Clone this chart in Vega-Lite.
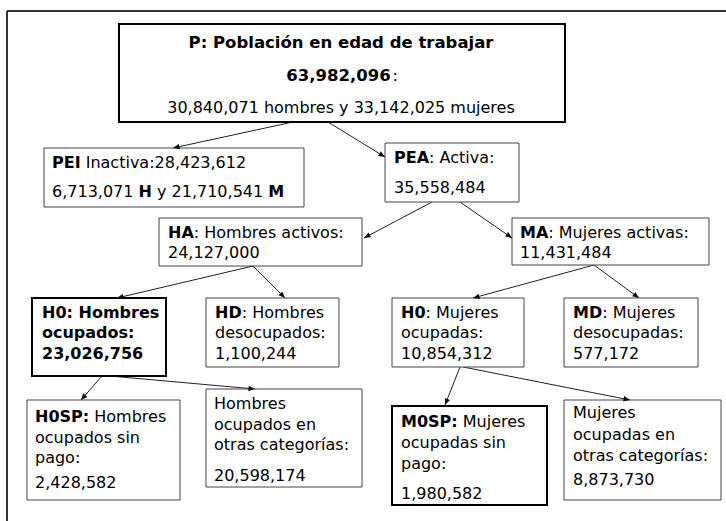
{
  "$schema": "https://vega.github.io/schema/vega-lite/v6.json",
  "width": 726,
  "height": 521,
  "autosize": {"type": "none"},
  "padding": 0,
  "background": "white",
  "config": {"view": {"stroke": null}},
  "datasets": {
    "frame": [
      {"side": "top", "x": 7, "x2": 726, "y": 11, "y2": 11},
      {"side": "left", "x": 7, "x2": 7, "y": 11, "y2": 521}
    ],
    "links": [
      {"from": "P", "to": "PEI", "x": 293, "y": 122, "x2": 173, "y2": 148},
      {"from": "P", "to": "PEA", "x": 328, "y": 122, "x2": 385, "y2": 157},
      {"from": "PEA", "to": "HA", "x": 432, "y": 202, "x2": 364, "y2": 238},
      {"from": "PEA", "to": "MA", "x": 460, "y": 202, "x2": 512, "y2": 238},
      {"from": "HA", "to": "H0h", "x": 253, "y": 266, "x2": 117, "y2": 298},
      {"from": "HA", "to": "HD", "x": 253, "y": 266, "x2": 285, "y2": 298},
      {"from": "MA", "to": "H0m", "x": 594, "y": 265, "x2": 473, "y2": 298},
      {"from": "MA", "to": "MD", "x": 594, "y": 265, "x2": 639, "y2": 298},
      {"from": "H0h", "to": "H0SP", "x": 102, "y": 376, "x2": 81, "y2": 400},
      {"from": "H0h", "to": "Hotras", "x": 110, "y": 376, "x2": 255, "y2": 389},
      {"from": "H0m", "to": "M0SP", "x": 460, "y": 367, "x2": 445, "y2": 405},
      {"from": "H0m", "to": "Motras", "x": 463, "y": 367, "x2": 630, "y2": 400}
    ],
    "boxes": [
      {"id": "P", "x": 119, "x2": 565, "y": 24, "y2": 122, "emph": "principal"},
      {"id": "PEI", "x": 44, "x2": 304, "y": 148, "y2": 207, "emph": "normal"},
      {"id": "PEA", "x": 385, "x2": 519, "y": 143, "y2": 202, "emph": "normal"},
      {"id": "HA", "x": 159, "x2": 362, "y": 218, "y2": 266, "emph": "normal"},
      {"id": "MA", "x": 512, "x2": 709, "y": 218, "y2": 265, "emph": "normal"},
      {"id": "H0h", "x": 32, "x2": 166, "y": 298, "y2": 376, "emph": "principal"},
      {"id": "HD", "x": 206, "x2": 339, "y": 298, "y2": 367, "emph": "normal"},
      {"id": "H0m", "x": 392, "x2": 524, "y": 298, "y2": 367, "emph": "normal"},
      {"id": "MD", "x": 564, "x2": 698, "y": 298, "y2": 367, "emph": "normal"},
      {"id": "H0SP", "x": 27, "x2": 180, "y": 400, "y2": 500, "emph": "normal"},
      {"id": "Hotras", "x": 206, "x2": 362, "y": 389, "y2": 487, "emph": "normal"},
      {"id": "M0SP", "x": 392, "x2": 547, "y": 406, "y2": 505, "emph": "principal"},
      {"id": "Motras", "x": 564, "x2": 721, "y": 400, "y2": 500, "emph": "normal"}
    ],
    "labels": [
      {"t": "P: Población en edad de trabajar", "x": 341, "y": 43, "w": "b", "a": "c"},
      {"t": "63,982,096", "x": 338.5, "y": 76, "w": "b", "a": "c"},
      {"t": ":", "x": 392.5, "y": 76, "w": "n", "a": "l"},
      {"t": "30,840,071 hombres y 33,142,025 mujeres", "x": 341, "y": 108, "w": "n", "a": "c"},
      {"t": "PEI", "x": 52, "y": 163, "w": "b", "a": "l"},
      {"t": "Inactiva:28,423,612", "x": 85.7, "y": 163, "w": "n", "a": "l"},
      {"t": "6,713,071", "x": 52, "y": 192, "w": "n", "a": "l"},
      {"t": "H", "x": 138.5, "y": 192, "w": "b", "a": "l"},
      {"t": "y 21,710,541", "x": 157, "y": 192, "w": "n", "a": "l"},
      {"t": "M", "x": 268.2, "y": 192, "w": "b", "a": "l"},
      {"t": "PEA", "x": 394, "y": 158, "w": "b", "a": "l"},
      {"t": ": Activa:", "x": 429, "y": 158, "w": "n", "a": "l"},
      {"t": "35,558,484", "x": 394, "y": 188, "w": "n", "a": "l"},
      {"t": "HA", "x": 168, "y": 233, "w": "b", "a": "l"},
      {"t": ": Hombres activos:", "x": 193.8, "y": 233, "w": "n", "a": "l"},
      {"t": "24,127,000", "x": 168, "y": 253, "w": "n", "a": "l"},
      {"t": "MA", "x": 520, "y": 233, "w": "b", "a": "l"},
      {"t": ": Mujeres activas:", "x": 548.3, "y": 233, "w": "n", "a": "l"},
      {"t": "11,431,484", "x": 520, "y": 253, "w": "n", "a": "l"},
      {"t": "H0: Hombres", "x": 42, "y": 313, "w": "b", "a": "l"},
      {"t": "ocupados:", "x": 42, "y": 333, "w": "b", "a": "l"},
      {"t": "23,026,756", "x": 42, "y": 354, "w": "b", "a": "l"},
      {"t": "HD", "x": 215, "y": 313, "w": "b", "a": "l"},
      {"t": ": Hombres", "x": 241.7, "y": 313, "w": "n", "a": "l"},
      {"t": "desocupados:", "x": 215, "y": 333, "w": "n", "a": "l"},
      {"t": "1,100,244", "x": 215, "y": 354, "w": "n", "a": "l"},
      {"t": "H0", "x": 401, "y": 313, "w": "b", "a": "l"},
      {"t": ": Mujeres", "x": 425.5, "y": 313, "w": "n", "a": "l"},
      {"t": "ocupadas:", "x": 401, "y": 333, "w": "n", "a": "l"},
      {"t": "10,854,312", "x": 401, "y": 354, "w": "n", "a": "l"},
      {"t": "MD", "x": 573, "y": 313, "w": "b", "a": "l"},
      {"t": ": Mujeres", "x": 602.2, "y": 313, "w": "n", "a": "l"},
      {"t": "desocupadas:", "x": 573, "y": 333, "w": "n", "a": "l"},
      {"t": "577,172", "x": 573, "y": 354, "w": "n", "a": "l"},
      {"t": "H0SP:", "x": 35, "y": 417, "w": "b", "a": "l"},
      {"t": "Hombres", "x": 94.3, "y": 417, "w": "n", "a": "l"},
      {"t": "ocupados sin", "x": 35, "y": 438, "w": "n", "a": "l"},
      {"t": "pago:", "x": 35, "y": 458, "w": "n", "a": "l"},
      {"t": "2,428,582", "x": 35, "y": 483, "w": "n", "a": "l"},
      {"t": "Hombres", "x": 214, "y": 404, "w": "n", "a": "l"},
      {"t": "ocupados en", "x": 214, "y": 425, "w": "n", "a": "l"},
      {"t": "otras categorías:", "x": 214, "y": 445, "w": "n", "a": "l"},
      {"t": "20,598,174", "x": 214, "y": 476, "w": "n", "a": "l"},
      {"t": "M0SP:", "x": 401, "y": 422, "w": "b", "a": "l"},
      {"t": "Mujeres", "x": 462.8, "y": 422, "w": "n", "a": "l"},
      {"t": "ocupadas sin", "x": 401, "y": 443, "w": "n", "a": "l"},
      {"t": "pago:", "x": 401, "y": 464, "w": "n", "a": "l"},
      {"t": "1,980,582", "x": 401, "y": 494, "w": "n", "a": "l"},
      {"t": "Mujeres", "x": 573, "y": 413, "w": "n", "a": "l"},
      {"t": "ocupadas en", "x": 573, "y": 435, "w": "n", "a": "l"},
      {"t": "otras categorías:", "x": 573, "y": 456, "w": "n", "a": "l"},
      {"t": "8,873,730", "x": 573, "y": 480, "w": "n", "a": "l"}
    ]
  },
  "encoding": {
    "x": {"field": "x", "type": "quantitative", "scale": {"domain": [0, 726], "nice": false, "zero": false}, "axis": null},
    "y": {"field": "y", "type": "quantitative", "scale": {"domain": [0, 521], "reverse": true, "nice": false, "zero": false}, "axis": null}
  },
  "layer": [
    {
      "data": {"name": "frame"},
      "mark": {"type": "rule", "color": "#333333", "strokeWidth": 2},
      "encoding": {"x2": {"field": "x2"}, "y2": {"field": "y2"}}
    },
    {
      "data": {"name": "links"},
      "mark": {"type": "rule", "color": "#222222", "strokeWidth": 1},
      "encoding": {"x2": {"field": "x2"}, "y2": {"field": "y2"}}
    },
    {
      "data": {"name": "boxes"},
      "mark": {"type": "rect", "fill": "white"},
      "encoding": {
        "x2": {"field": "x2"},
        "y2": {"field": "y2"},
        "stroke": {"field": "emph", "type": "nominal", "scale": {"domain": ["principal", "normal"], "range": ["#000000", "#444444"]}, "legend": null},
        "strokeWidth": {"field": "emph", "type": "nominal", "scale": {"domain": ["principal", "normal"], "range": [2, 1]}, "legend": null}
      }
    },
    {
      "data": {"name": "links"},
      "transform": [{"calculate": "atan2(datum.x2 - datum.x, datum.y - datum.y2) * 180 / PI", "as": "ang"}],
      "mark": {"type": "point", "shape": "M0,0L-0.42,1L0.42,1Z", "filled": true, "size": 170, "color": "#111111", "opacity": 1},
      "encoding": {
        "x": {"field": "x2", "type": "quantitative", "scale": {"domain": [0, 726], "nice": false, "zero": false}, "axis": null},
        "y": {"field": "y2", "type": "quantitative", "scale": {"domain": [0, 521], "reverse": true, "nice": false, "zero": false}, "axis": null},
        "angle": {"field": "ang", "type": "quantitative", "scale": null}
      }
    },
    {
      "data": {"name": "labels"},
      "transform": [{"filter": "datum.w == 'b' && datum.a == 'l'"}],
      "mark": {"type": "text", "font": "DejaVu Sans", "fontSize": 16, "fontWeight": "bold", "align": "left", "baseline": "middle", "color": "#000000"},
      "encoding": {"text": {"field": "t"}}
    },
    {
      "data": {"name": "labels"},
      "transform": [{"filter": "datum.w == 'n' && datum.a == 'l'"}],
      "mark": {"type": "text", "font": "DejaVu Sans", "fontSize": 16, "fontWeight": "normal", "align": "left", "baseline": "middle", "color": "#000000"},
      "encoding": {"text": {"field": "t"}}
    },
    {
      "data": {"name": "labels"},
      "transform": [{"filter": "datum.w == 'b' && datum.a == 'c'"}],
      "mark": {"type": "text", "font": "DejaVu Sans", "fontSize": 16.5, "fontWeight": "bold", "align": "center", "baseline": "middle", "color": "#000000"},
      "encoding": {"text": {"field": "t"}}
    },
    {
      "data": {"name": "labels"},
      "transform": [{"filter": "datum.w == 'n' && datum.a == 'c'"}],
      "mark": {"type": "text", "font": "DejaVu Sans", "fontSize": 16, "fontWeight": "normal", "align": "center", "baseline": "middle", "color": "#000000"},
      "encoding": {"text": {"field": "t"}}
    }
  ]
}
